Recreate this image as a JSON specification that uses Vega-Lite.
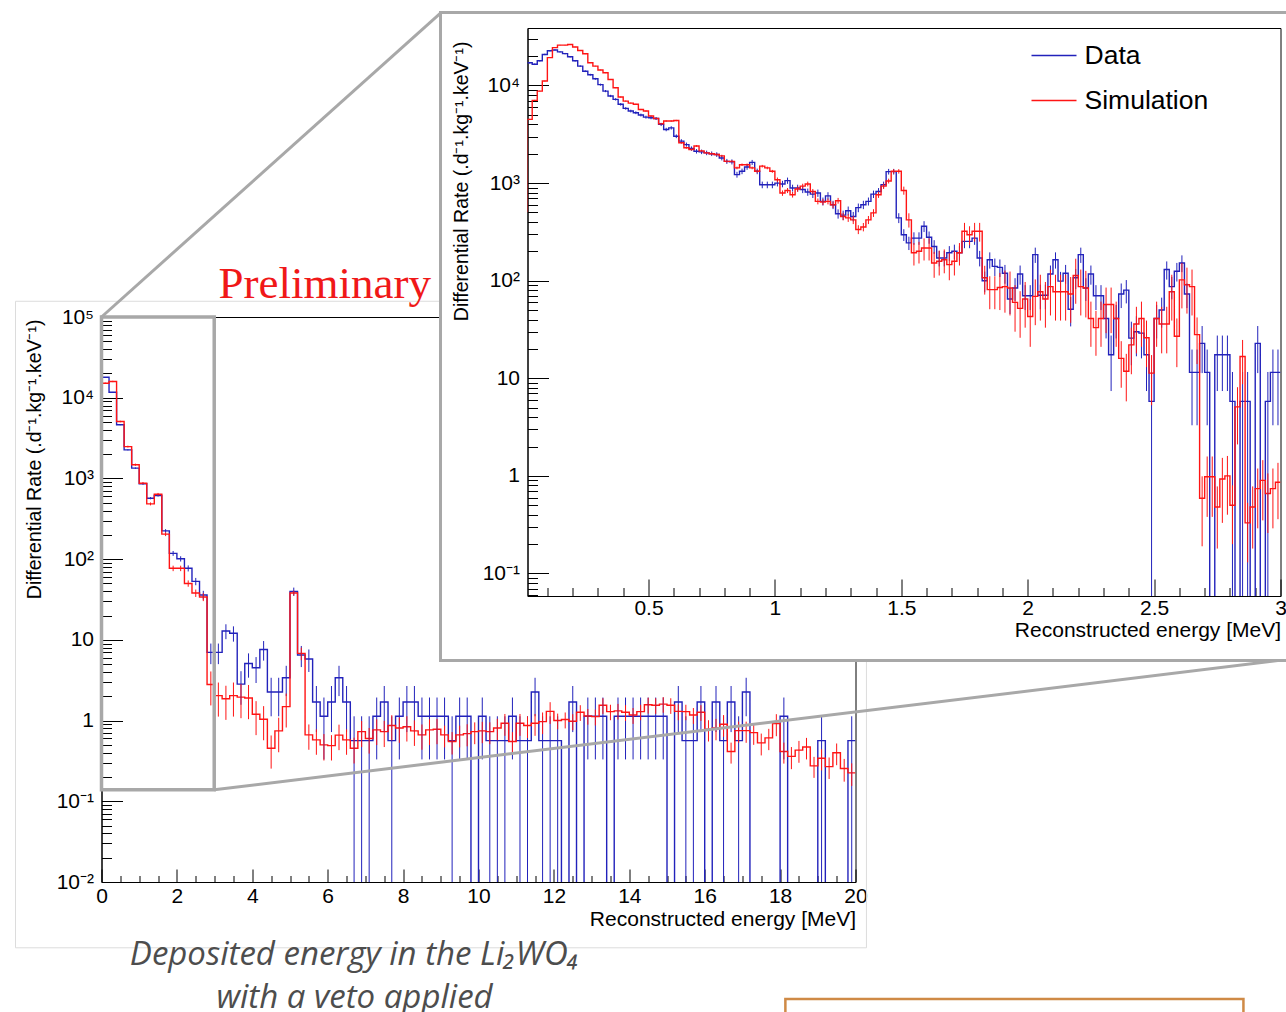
{
  "$schema": "https://vega.github.io/schema/vega-lite/v6.json",
  "background": "white",
  "padding": {"left": 14.5, "top": 10, "right": 0, "bottom": 0},
  "config": {
    "view": {"stroke": "black", "strokeWidth": 1},
    "axis": {"labelFont": "Liberation Sans", "titleFont": "Liberation Sans", "labelFontSize": 21, "titleFontSize": 21, "labelColor": "black", "titleColor": "black", "titleFontWeight": "normal", "domainColor": "black", "tickColor": "black", "grid": false, "labelFlush": false, "labelOverlap": false, "tickWidth": 1, "domainWidth": 1, "tickCount": 1000}
  },
  "datasets": {
    "main": [
      {"s":"Data","a":0,"b":0.2,"v":17900,"e":100},{"s":"Data","a":0.2,"b":0.4,"v":11700,"e":81},{"s":"Data","a":0.4,"b":0.6,"v":4620,"e":51},{"s":"Data","a":0.6,"b":0.8,"v":2260,"e":36},{"s":"Data","a":0.8,"b":1,"v":1340,"e":27.5},
      {"s":"Data","a":1,"b":1.2,"v":858,"e":22},{"s":"Data","a":1.2,"b":1.4,"v":569,"e":18},{"s":"Data","a":1.4,"b":1.6,"v":614,"e":18.6},{"s":"Data","a":1.6,"b":1.8,"v":224,"e":11.2},{"s":"Data","a":1.8,"b":2,"v":118,"e":8.2},
      {"s":"Data","a":2,"b":2.2,"v":101,"e":7.6},{"s":"Data","a":2.2,"b":2.4,"v":77,"e":6.6},{"s":"Data","a":2.4,"b":2.6,"v":53,"e":5.5},{"s":"Data","a":2.6,"b":2.8,"v":36,"e":4.5},{"s":"Data","a":2.8,"b":3,"v":7,"e":2},
      {"s":"Data","a":3,"b":3.2,"v":7,"e":2},{"s":"Data","a":3.2,"b":3.4,"v":12.9,"e":2.7},{"s":"Data","a":3.4,"b":3.6,"v":12.1,"e":2.6},{"s":"Data","a":3.6,"b":3.8,"v":2.83,"e":1.26},{"s":"Data","a":3.8,"b":4,"v":5.1,"e":1.7},
      {"s":"Data","a":4,"b":4.2,"v":4.52,"e":1.6},{"s":"Data","a":4.2,"b":4.4,"v":7.6,"e":2.07},{"s":"Data","a":4.4,"b":4.6,"v":2.26,"e":1.13},{"s":"Data","a":4.6,"b":4.8,"v":2.26,"e":1.13},{"s":"Data","a":4.8,"b":5,"v":3.39,"e":1.38},
      {"s":"Data","a":5,"b":5.2,"v":39.7,"e":4.7},{"s":"Data","a":5.2,"b":5.4,"v":6.5,"e":1.9},{"s":"Data","a":5.4,"b":5.6,"v":5.8,"e":1.8},{"s":"Data","a":5.6,"b":5.8,"v":1.7,"e":0.98},{"s":"Data","a":5.8,"b":6,"v":1.13,"e":0.8},
      {"s":"Data","a":6,"b":6.2,"v":1.7,"e":0.98},{"s":"Data","a":6.2,"b":6.4,"v":3.39,"e":1.38},{"s":"Data","a":6.4,"b":6.6,"v":1.7,"e":0.98},{"s":"Data","a":6.6,"b":6.8,"v":0.565,"e":0.565},{"s":"Data","a":6.8,"b":7,"v":0.565,"e":0.565},
      {"s":"Data","a":7,"b":7.2,"v":0.565,"e":0.565},{"s":"Data","a":7.2,"b":7.4,"v":1.13,"e":0.8},{"s":"Data","a":7.4,"b":7.6,"v":1.7,"e":0.98},{"s":"Data","a":7.6,"b":7.8,"v":0.565,"e":0.565},{"s":"Data","a":7.8,"b":8,"v":1.13,"e":0.8},
      {"s":"Data","a":8,"b":8.2,"v":1.7,"e":0.98},{"s":"Data","a":8.2,"b":8.4,"v":1.7,"e":0.98},{"s":"Data","a":8.4,"b":8.6,"v":1.13,"e":0.8},{"s":"Data","a":8.6,"b":8.8,"v":1.13,"e":0.8},{"s":"Data","a":8.8,"b":9,"v":1.13,"e":0.8},
      {"s":"Data","a":9,"b":9.2,"v":1.13,"e":0.8},{"s":"Data","a":9.2,"b":9.4,"v":0.565,"e":0.565},{"s":"Data","a":9.4,"b":9.6,"v":1.13,"e":0.8},{"s":"Data","a":9.6,"b":9.8,"v":1.13,"e":0.8},{"s":"Data","a":9.8,"b":10,"v":0,"e":0},
      {"s":"Data","a":10,"b":10.2,"v":1.13,"e":0.8},{"s":"Data","a":10.2,"b":10.4,"v":0.565,"e":0.565},{"s":"Data","a":10.4,"b":10.6,"v":0.565,"e":0.565},{"s":"Data","a":10.6,"b":10.8,"v":0.565,"e":0.565},{"s":"Data","a":10.8,"b":11,"v":1.13,"e":0.8},
      {"s":"Data","a":11,"b":11.2,"v":0.565,"e":0.565},{"s":"Data","a":11.2,"b":11.4,"v":0.565,"e":0.565},{"s":"Data","a":11.4,"b":11.6,"v":2.26,"e":1.13},{"s":"Data","a":11.6,"b":11.8,"v":0.565,"e":0.565},{"s":"Data","a":11.8,"b":12,"v":0.565,"e":0.565},
      {"s":"Data","a":12,"b":12.2,"v":0.565,"e":0.565},{"s":"Data","a":12.2,"b":12.4,"v":0,"e":0},{"s":"Data","a":12.4,"b":12.6,"v":1.7,"e":0.98},{"s":"Data","a":12.6,"b":12.8,"v":0,"e":0},{"s":"Data","a":12.8,"b":13,"v":1.13,"e":0.8},
      {"s":"Data","a":13,"b":13.2,"v":1.13,"e":0.8},{"s":"Data","a":13.2,"b":13.4,"v":1.13,"e":0.8},{"s":"Data","a":13.4,"b":13.6,"v":0,"e":0},{"s":"Data","a":13.6,"b":13.8,"v":1.13,"e":0.8},{"s":"Data","a":13.8,"b":14,"v":1.13,"e":0.8},
      {"s":"Data","a":14,"b":14.2,"v":1.13,"e":0.8},{"s":"Data","a":14.2,"b":14.4,"v":1.13,"e":0.8},{"s":"Data","a":14.4,"b":14.6,"v":1.13,"e":0.8},{"s":"Data","a":14.6,"b":14.8,"v":1.13,"e":0.8},{"s":"Data","a":14.8,"b":15,"v":1.13,"e":0.8},
      {"s":"Data","a":15,"b":15.2,"v":0,"e":0},{"s":"Data","a":15.2,"b":15.4,"v":1.7,"e":0.98},{"s":"Data","a":15.4,"b":15.6,"v":0.565,"e":0.565},{"s":"Data","a":15.6,"b":15.8,"v":0.565,"e":0.565},{"s":"Data","a":15.8,"b":16,"v":1.7,"e":0.98},
      {"s":"Data","a":16,"b":16.2,"v":0,"e":0},{"s":"Data","a":16.2,"b":16.4,"v":1.7,"e":0.98},{"s":"Data","a":16.4,"b":16.6,"v":0.565,"e":0.565},{"s":"Data","a":16.6,"b":16.8,"v":1.7,"e":0.98},{"s":"Data","a":16.8,"b":17,"v":0.565,"e":0.565},
      {"s":"Data","a":17,"b":17.2,"v":2.26,"e":1.13},{"s":"Data","a":17.2,"b":17.4,"v":0,"e":0},{"s":"Data","a":17.4,"b":17.6,"v":0,"e":0},{"s":"Data","a":17.6,"b":17.8,"v":0,"e":0},{"s":"Data","a":17.8,"b":18,"v":0,"e":0},
      {"s":"Data","a":18,"b":18.2,"v":1.13,"e":0.8},{"s":"Data","a":18.2,"b":18.4,"v":0,"e":0},{"s":"Data","a":18.4,"b":18.6,"v":0,"e":0},{"s":"Data","a":18.6,"b":18.8,"v":0,"e":0},{"s":"Data","a":18.8,"b":19,"v":0,"e":0},
      {"s":"Data","a":19,"b":19.2,"v":0.565,"e":0.565},{"s":"Data","a":19.2,"b":19.4,"v":0,"e":0},{"s":"Data","a":19.4,"b":19.6,"v":0,"e":0},{"s":"Data","a":19.6,"b":19.8,"v":0,"e":0},{"s":"Data","a":19.8,"b":20,"v":0.565,"e":0.565},
      {"s":"Simulation","a":0,"b":0.2,"v":15100,"e":300},{"s":"Simulation","a":0.2,"b":0.4,"v":15900,"e":300},{"s":"Simulation","a":0.4,"b":0.6,"v":5070,"e":110},{"s":"Simulation","a":0.6,"b":0.8,"v":2480,"e":65},{"s":"Simulation","a":0.8,"b":1,"v":1480,"e":45},
      {"s":"Simulation","a":1,"b":1.2,"v":873,"e":30},{"s":"Simulation","a":1.2,"b":1.4,"v":484,"e":20},{"s":"Simulation","a":1.4,"b":1.6,"v":637,"e":24},{"s":"Simulation","a":1.6,"b":1.8,"v":204,"e":11},{"s":"Simulation","a":1.8,"b":2,"v":77,"e":6},
      {"s":"Simulation","a":2,"b":2.2,"v":77,"e":6},{"s":"Simulation","a":2.2,"b":2.4,"v":50,"e":4.5},{"s":"Simulation","a":2.4,"b":2.6,"v":38,"e":4},{"s":"Simulation","a":2.6,"b":2.8,"v":34,"e":3.8},{"s":"Simulation","a":2.8,"b":3,"v":2.8,"e":1.26},
      {"s":"Simulation","a":3,"b":3.2,"v":2.04,"e":0.92},{"s":"Simulation","a":3.2,"b":3.4,"v":1.86,"e":0.84},{"s":"Simulation","a":3.4,"b":3.6,"v":2.04,"e":0.92},{"s":"Simulation","a":3.6,"b":3.8,"v":1.95,"e":0.88},{"s":"Simulation","a":3.8,"b":4,"v":1.9,"e":0.86},
      {"s":"Simulation","a":4,"b":4.2,"v":1.2,"e":0.54},{"s":"Simulation","a":4.2,"b":4.4,"v":1.04,"e":0.47},{"s":"Simulation","a":4.4,"b":4.6,"v":0.454,"e":0.2},{"s":"Simulation","a":4.6,"b":4.8,"v":0.745,"e":0.34},{"s":"Simulation","a":4.8,"b":5,"v":1.49,"e":0.67},
      {"s":"Simulation","a":5,"b":5.2,"v":38,"e":2.5},{"s":"Simulation","a":5.2,"b":5.4,"v":6.8,"e":1.2},{"s":"Simulation","a":5.4,"b":5.6,"v":0.665,"e":0.23},{"s":"Simulation","a":5.6,"b":5.8,"v":0.577,"e":0.2},{"s":"Simulation","a":5.8,"b":6,"v":0.5,"e":0.18},
      {"s":"Simulation","a":6,"b":6.2,"v":0.49,"e":0.17},{"s":"Simulation","a":6.2,"b":6.4,"v":0.66,"e":0.23},{"s":"Simulation","a":6.4,"b":6.6,"v":0.577,"e":0.2},{"s":"Simulation","a":6.6,"b":6.8,"v":0.454,"e":0.16},{"s":"Simulation","a":6.8,"b":7,"v":0.73,"e":0.26},
      {"s":"Simulation","a":7,"b":7.2,"v":0.6,"e":0.21},{"s":"Simulation","a":7.2,"b":7.4,"v":0.767,"e":0.27},{"s":"Simulation","a":7.4,"b":7.6,"v":0.73,"e":0.26},{"s":"Simulation","a":7.6,"b":7.8,"v":0.867,"e":0.3},{"s":"Simulation","a":7.8,"b":8,"v":0.81,"e":0.28},
      {"s":"Simulation","a":8,"b":8.2,"v":0.84,"e":0.29},{"s":"Simulation","a":8.2,"b":8.4,"v":0.745,"e":0.26},{"s":"Simulation","a":8.4,"b":8.6,"v":0.665,"e":0.23},{"s":"Simulation","a":8.6,"b":8.8,"v":0.767,"e":0.27},{"s":"Simulation","a":8.8,"b":9,"v":0.78,"e":0.27},
      {"s":"Simulation","a":9,"b":9.2,"v":0.665,"e":0.2},{"s":"Simulation","a":9.2,"b":9.4,"v":0.55,"e":0.17},{"s":"Simulation","a":9.4,"b":9.6,"v":0.665,"e":0.2},{"s":"Simulation","a":9.6,"b":9.8,"v":0.69,"e":0.21},{"s":"Simulation","a":9.8,"b":10,"v":0.73,"e":0.22},
      {"s":"Simulation","a":10,"b":10.2,"v":0.745,"e":0.22},{"s":"Simulation","a":10.2,"b":10.4,"v":0.73,"e":0.22},{"s":"Simulation","a":10.4,"b":10.6,"v":0.81,"e":0.24},{"s":"Simulation","a":10.6,"b":10.8,"v":0.927,"e":0.28},{"s":"Simulation","a":10.8,"b":11,"v":0.55,"e":0.17},
      {"s":"Simulation","a":11,"b":11.2,"v":0.927,"e":0.28},{"s":"Simulation","a":11.2,"b":11.4,"v":0.867,"e":0.26},{"s":"Simulation","a":11.4,"b":11.6,"v":0.927,"e":0.28},{"s":"Simulation","a":11.6,"b":11.8,"v":0.97,"e":0.29},{"s":"Simulation","a":11.8,"b":12,"v":1.3,"e":0.39},
      {"s":"Simulation","a":12,"b":12.2,"v":1,"e":0.22},{"s":"Simulation","a":12.2,"b":12.4,"v":1.03,"e":0.23},{"s":"Simulation","a":12.4,"b":12.6,"v":0.98,"e":0.22},{"s":"Simulation","a":12.6,"b":12.8,"v":1.27,"e":0.28},{"s":"Simulation","a":12.8,"b":13,"v":1.14,"e":0.25},
      {"s":"Simulation","a":13,"b":13.2,"v":1.12,"e":0.25},{"s":"Simulation","a":13.2,"b":13.4,"v":1.55,"e":0.34},{"s":"Simulation","a":13.4,"b":13.6,"v":1.29,"e":0.28},{"s":"Simulation","a":13.6,"b":13.8,"v":1.32,"e":0.29},{"s":"Simulation","a":13.8,"b":14,"v":1.27,"e":0.28},
      {"s":"Simulation","a":14,"b":14.2,"v":1.17,"e":0.26},{"s":"Simulation","a":14.2,"b":14.4,"v":1.29,"e":0.28},{"s":"Simulation","a":14.4,"b":14.6,"v":1.57,"e":0.35},{"s":"Simulation","a":14.6,"b":14.8,"v":1.55,"e":0.34},{"s":"Simulation","a":14.8,"b":15,"v":1.6,"e":0.35},
      {"s":"Simulation","a":15,"b":15.2,"v":1.55,"e":0.34},{"s":"Simulation","a":15.2,"b":15.4,"v":1.3,"e":0.29},{"s":"Simulation","a":15.4,"b":15.6,"v":1.29,"e":0.28},{"s":"Simulation","a":15.6,"b":15.8,"v":1.17,"e":0.26},{"s":"Simulation","a":15.8,"b":16,"v":1.27,"e":0.28},
      {"s":"Simulation","a":16,"b":16.2,"v":0.78,"e":0.23},{"s":"Simulation","a":16.2,"b":16.4,"v":0.81,"e":0.24},{"s":"Simulation","a":16.4,"b":16.6,"v":0.9,"e":0.27},{"s":"Simulation","a":16.6,"b":16.8,"v":0.413,"e":0.12},{"s":"Simulation","a":16.8,"b":17,"v":0.75,"e":0.22},
      {"s":"Simulation","a":17,"b":17.2,"v":0.75,"e":0.22},{"s":"Simulation","a":17.2,"b":17.4,"v":0.71,"e":0.21},{"s":"Simulation","a":17.4,"b":17.6,"v":0.53,"e":0.16},{"s":"Simulation","a":17.6,"b":17.8,"v":0.61,"e":0.18},{"s":"Simulation","a":17.8,"b":18,"v":0.92,"e":0.28},
      {"s":"Simulation","a":18,"b":18.2,"v":0.413,"e":0.12},{"s":"Simulation","a":18.2,"b":18.4,"v":0.36,"e":0.11},{"s":"Simulation","a":18.4,"b":18.6,"v":0.43,"e":0.13},{"s":"Simulation","a":18.6,"b":18.8,"v":0.47,"e":0.14},{"s":"Simulation","a":18.8,"b":19,"v":0.275,"e":0.08},
      {"s":"Simulation","a":19,"b":19.2,"v":0.341,"e":0.1},{"s":"Simulation","a":19.2,"b":19.4,"v":0.269,"e":0.08},{"s":"Simulation","a":19.4,"b":19.6,"v":0.4,"e":0.12},{"s":"Simulation","a":19.6,"b":19.8,"v":0.255,"e":0.08},{"s":"Simulation","a":19.8,"b":20,"v":0.225,"e":0.07}
    ],
    "ins": [
      {"s":"Data","a":0.02,"b":0.04,"v":17100,"e":315},{"s":"Data","a":0.04,"b":0.06,"v":16500,"e":309},{"s":"Data","a":0.06,"b":0.08,"v":17900,"e":322},{"s":"Data","a":0.08,"b":0.1,"v":20800,"e":347},{"s":"Data","a":0.1,"b":0.12,"v":22700,"e":363},
      {"s":"Data","a":0.12,"b":0.14,"v":23100,"e":366},{"s":"Data","a":0.14,"b":0.16,"v":22100,"e":358},{"s":"Data","a":0.16,"b":0.18,"v":21200,"e":351},{"s":"Data","a":0.18,"b":0.2,"v":19700,"e":338},{"s":"Data","a":0.2,"b":0.22,"v":17900,"e":322},
      {"s":"Data","a":0.22,"b":0.24,"v":15800,"e":303},{"s":"Data","a":0.24,"b":0.26,"v":14000,"e":285},{"s":"Data","a":0.26,"b":0.28,"v":12900,"e":274},{"s":"Data","a":0.28,"b":0.3,"v":11700,"e":260},{"s":"Data","a":0.3,"b":0.32,"v":10200,"e":243},
      {"s":"Data","a":0.32,"b":0.34,"v":8760,"e":225},{"s":"Data","a":0.34,"b":0.36,"v":7810,"e":213},{"s":"Data","a":0.36,"b":0.38,"v":7210,"e":204},{"s":"Data","a":0.38,"b":0.4,"v":6410,"e":193},{"s":"Data","a":0.4,"b":0.42,"v":5820,"e":184},
      {"s":"Data","a":0.42,"b":0.44,"v":5470,"e":178},{"s":"Data","a":0.44,"b":0.46,"v":5260,"e":175},{"s":"Data","a":0.46,"b":0.48,"v":4980,"e":170},{"s":"Data","a":0.48,"b":0.5,"v":4740,"e":166},{"s":"Data","a":0.5,"b":0.52,"v":4670,"e":165},
      {"s":"Data","a":0.52,"b":0.54,"v":4590,"e":163},{"s":"Data","a":0.54,"b":0.56,"v":3990,"e":152},{"s":"Data","a":0.56,"b":0.58,"v":3540,"e":143},{"s":"Data","a":0.58,"b":0.6,"v":3680,"e":146},{"s":"Data","a":0.6,"b":0.62,"v":3020,"e":132},
      {"s":"Data","a":0.62,"b":0.64,"v":2690,"e":125},{"s":"Data","a":0.64,"b":0.66,"v":2480,"e":120},{"s":"Data","a":0.66,"b":0.68,"v":2260,"e":114},{"s":"Data","a":0.68,"b":0.7,"v":2120,"e":111},{"s":"Data","a":0.7,"b":0.72,"v":2090,"e":110},
      {"s":"Data","a":0.72,"b":0.74,"v":2040,"e":109},{"s":"Data","a":0.74,"b":0.76,"v":2000,"e":108},{"s":"Data","a":0.76,"b":0.78,"v":1960,"e":107},{"s":"Data","a":0.78,"b":0.8,"v":1810,"e":102},{"s":"Data","a":0.8,"b":0.82,"v":1670,"e":98},
      {"s":"Data","a":0.82,"b":0.84,"v":1650,"e":98},{"s":"Data","a":0.84,"b":0.86,"v":1220,"e":84},{"s":"Data","a":0.86,"b":0.88,"v":1320,"e":87},{"s":"Data","a":0.88,"b":0.9,"v":1460,"e":92},{"s":"Data","a":0.9,"b":0.92,"v":1630,"e":97},
      {"s":"Data","a":0.92,"b":0.94,"v":1320,"e":87},{"s":"Data","a":0.94,"b":0.96,"v":960,"e":75},{"s":"Data","a":0.96,"b":0.98,"v":960,"e":75},{"s":"Data","a":0.98,"b":1,"v":960,"e":75},{"s":"Data","a":1,"b":1.02,"v":1000,"e":76},
      {"s":"Data","a":1.02,"b":1.04,"v":980,"e":75},{"s":"Data","a":1.04,"b":1.06,"v":1060,"e":78},{"s":"Data","a":1.06,"b":1.08,"v":890,"e":72},{"s":"Data","a":1.08,"b":1.1,"v":890,"e":72},{"s":"Data","a":1.1,"b":1.12,"v":860,"e":71},
      {"s":"Data","a":1.12,"b":1.14,"v":810,"e":69},{"s":"Data","a":1.14,"b":1.16,"v":770,"e":67},{"s":"Data","a":1.16,"b":1.18,"v":790,"e":68},{"s":"Data","a":1.18,"b":1.2,"v":650,"e":61},{"s":"Data","a":1.2,"b":1.22,"v":740,"e":66},
      {"s":"Data","a":1.22,"b":1.24,"v":600,"e":59},{"s":"Data","a":1.24,"b":1.26,"v":485,"e":53},{"s":"Data","a":1.26,"b":1.28,"v":470,"e":52},{"s":"Data","a":1.28,"b":1.3,"v":520,"e":55},{"s":"Data","a":1.3,"b":1.32,"v":455,"e":51},
      {"s":"Data","a":1.32,"b":1.34,"v":560,"e":57},{"s":"Data","a":1.34,"b":1.36,"v":600,"e":59},{"s":"Data","a":1.36,"b":1.38,"v":650,"e":61},{"s":"Data","a":1.38,"b":1.4,"v":770,"e":67},{"s":"Data","a":1.4,"b":1.42,"v":820,"e":69},
      {"s":"Data","a":1.42,"b":1.44,"v":960,"e":75},{"s":"Data","a":1.44,"b":1.46,"v":1310,"e":87},{"s":"Data","a":1.46,"b":1.48,"v":1310,"e":87},{"s":"Data","a":1.48,"b":1.5,"v":440,"e":51},{"s":"Data","a":1.5,"b":1.52,"v":296,"e":41},
      {"s":"Data","a":1.52,"b":1.54,"v":244,"e":38},{"s":"Data","a":1.54,"b":1.56,"v":273,"e":40},{"s":"Data","a":1.56,"b":1.58,"v":273,"e":40},{"s":"Data","a":1.58,"b":1.6,"v":361,"e":46},{"s":"Data","a":1.6,"b":1.62,"v":279,"e":40},
      {"s":"Data","a":1.62,"b":1.64,"v":224,"e":36},{"s":"Data","a":1.64,"b":1.66,"v":171,"e":31},{"s":"Data","a":1.66,"b":1.68,"v":171,"e":31},{"s":"Data","a":1.68,"b":1.7,"v":193,"e":33},{"s":"Data","a":1.7,"b":1.72,"v":200,"e":34},
      {"s":"Data","a":1.72,"b":1.74,"v":193,"e":33},{"s":"Data","a":1.74,"b":1.76,"v":253,"e":38},{"s":"Data","a":1.76,"b":1.78,"v":253,"e":38},{"s":"Data","a":1.78,"b":1.8,"v":273,"e":40},{"s":"Data","a":1.8,"b":1.82,"v":171,"e":31},
      {"s":"Data","a":1.82,"b":1.84,"v":100,"e":24},{"s":"Data","a":1.84,"b":1.86,"v":164,"e":31},{"s":"Data","a":1.86,"b":1.88,"v":140,"e":28.5},{"s":"Data","a":1.88,"b":1.9,"v":137,"e":28},{"s":"Data","a":1.9,"b":1.92,"v":119,"e":26},
      {"s":"Data","a":1.92,"b":1.94,"v":65,"e":19.4},{"s":"Data","a":1.94,"b":1.96,"v":84,"e":22},{"s":"Data","a":1.96,"b":1.98,"v":117,"e":26},{"s":"Data","a":1.98,"b":2,"v":70,"e":20},{"s":"Data","a":2,"b":2.02,"v":70,"e":20},
      {"s":"Data","a":2.02,"b":2.04,"v":185,"e":33},{"s":"Data","a":2.04,"b":2.06,"v":71,"e":20},{"s":"Data","a":2.06,"b":2.08,"v":71,"e":20},{"s":"Data","a":2.08,"b":2.1,"v":117,"e":26},{"s":"Data","a":2.1,"b":2.12,"v":164,"e":31},
      {"s":"Data","a":2.12,"b":2.14,"v":99,"e":24},{"s":"Data","a":2.14,"b":2.16,"v":119,"e":26},{"s":"Data","a":2.16,"b":2.18,"v":51,"e":17},{"s":"Data","a":2.18,"b":2.2,"v":107,"e":25},{"s":"Data","a":2.2,"b":2.22,"v":185,"e":33},
      {"s":"Data","a":2.22,"b":2.24,"v":84,"e":22},{"s":"Data","a":2.24,"b":2.26,"v":117,"e":26},{"s":"Data","a":2.26,"b":2.28,"v":70,"e":20},{"s":"Data","a":2.28,"b":2.3,"v":70,"e":20},{"s":"Data","a":2.3,"b":2.32,"v":41,"e":15.4},
      {"s":"Data","a":2.32,"b":2.34,"v":17.4,"e":10},{"s":"Data","a":2.34,"b":2.36,"v":41,"e":15.4},{"s":"Data","a":2.36,"b":2.38,"v":73,"e":20.6},{"s":"Data","a":2.38,"b":2.4,"v":80,"e":21.5},{"s":"Data","a":2.4,"b":2.42,"v":25.8,"e":12.2},
      {"s":"Data","a":2.42,"b":2.44,"v":30,"e":13.2},{"s":"Data","a":2.44,"b":2.46,"v":29,"e":13},{"s":"Data","a":2.46,"b":2.48,"v":17.4,"e":10},{"s":"Data","a":2.48,"b":2.5,"v":5.8,"e":5.8},{"s":"Data","a":2.5,"b":2.52,"v":41,"e":15.4},
      {"s":"Data","a":2.52,"b":2.54,"v":50,"e":17},{"s":"Data","a":2.54,"b":2.56,"v":130,"e":27.5},{"s":"Data","a":2.56,"b":2.58,"v":87,"e":22.5},{"s":"Data","a":2.58,"b":2.6,"v":125,"e":27},{"s":"Data","a":2.6,"b":2.62,"v":152,"e":29.7},
      {"s":"Data","a":2.62,"b":2.64,"v":73,"e":20.6},{"s":"Data","a":2.64,"b":2.66,"v":11.5,"e":8.2},{"s":"Data","a":2.66,"b":2.68,"v":11.5,"e":8.2},{"s":"Data","a":2.68,"b":2.7,"v":22.8,"e":11.5},{"s":"Data","a":2.7,"b":2.72,"v":11.5,"e":8.2},
      {"s":"Data","a":2.72,"b":2.74,"v":0,"e":0},{"s":"Data","a":2.74,"b":2.76,"v":17.4,"e":10},{"s":"Data","a":2.76,"b":2.78,"v":17.4,"e":10},{"s":"Data","a":2.78,"b":2.8,"v":17.4,"e":10},{"s":"Data","a":2.8,"b":2.82,"v":5.8,"e":5.8},
      {"s":"Data","a":2.82,"b":2.84,"v":0,"e":0},{"s":"Data","a":2.84,"b":2.86,"v":5.8,"e":5.8},{"s":"Data","a":2.86,"b":2.88,"v":5.8,"e":5.8},{"s":"Data","a":2.88,"b":2.9,"v":0,"e":0},{"s":"Data","a":2.9,"b":2.92,"v":22.8,"e":11.5},
      {"s":"Data","a":2.92,"b":2.94,"v":0,"e":0},{"s":"Data","a":2.94,"b":2.96,"v":5.8,"e":5.8},{"s":"Data","a":2.96,"b":2.98,"v":11.5,"e":8.2},{"s":"Data","a":2.98,"b":3,"v":11.5,"e":8.2},
      {"s":"Simulation","a":0,"b":0.02,"v":510,"e":10},{"s":"Simulation","a":0.02,"b":0.04,"v":4490,"e":60},{"s":"Simulation","a":0.04,"b":0.06,"v":7040,"e":80},{"s":"Simulation","a":0.06,"b":0.08,"v":8760,"e":90},{"s":"Simulation","a":0.08,"b":0.1,"v":11100,"e":100},
      {"s":"Simulation","a":0.1,"b":0.12,"v":19300,"e":140},{"s":"Simulation","a":0.12,"b":0.14,"v":24400,"e":160},{"s":"Simulation","a":0.14,"b":0.16,"v":25900,"e":160},{"s":"Simulation","a":0.16,"b":0.18,"v":25900,"e":160},{"s":"Simulation","a":0.18,"b":0.2,"v":26300,"e":160},
      {"s":"Simulation","a":0.2,"b":0.22,"v":24800,"e":160},{"s":"Simulation","a":0.22,"b":0.24,"v":22800,"e":150},{"s":"Simulation","a":0.24,"b":0.26,"v":21100,"e":145},{"s":"Simulation","a":0.26,"b":0.28,"v":17100,"e":130},{"s":"Simulation","a":0.28,"b":0.3,"v":15800,"e":125},
      {"s":"Simulation","a":0.3,"b":0.32,"v":14400,"e":120},{"s":"Simulation","a":0.32,"b":0.34,"v":13500,"e":115},{"s":"Simulation","a":0.34,"b":0.36,"v":11500,"e":110},{"s":"Simulation","a":0.36,"b":0.38,"v":9490,"e":100},{"s":"Simulation","a":0.38,"b":0.4,"v":7610,"e":90},
      {"s":"Simulation","a":0.4,"b":0.42,"v":6920,"e":85},{"s":"Simulation","a":0.42,"b":0.44,"v":6600,"e":85},{"s":"Simulation","a":0.44,"b":0.46,"v":6410,"e":80},{"s":"Simulation","a":0.46,"b":0.48,"v":5670,"e":80},{"s":"Simulation","a":0.48,"b":0.5,"v":5470,"e":75},
      {"s":"Simulation","a":0.5,"b":0.52,"v":4860,"e":70},{"s":"Simulation","a":0.52,"b":0.54,"v":4590,"e":70},{"s":"Simulation","a":0.54,"b":0.56,"v":4050,"e":65},{"s":"Simulation","a":0.56,"b":0.58,"v":4320,"e":70},{"s":"Simulation","a":0.58,"b":0.6,"v":4320,"e":70},
      {"s":"Simulation","a":0.6,"b":0.62,"v":4370,"e":70},{"s":"Simulation","a":0.62,"b":0.64,"v":2590,"e":55},{"s":"Simulation","a":0.64,"b":0.66,"v":2300,"e":50},{"s":"Simulation","a":0.66,"b":0.68,"v":2210,"e":50},{"s":"Simulation","a":0.68,"b":0.7,"v":2400,"e":50},
      {"s":"Simulation","a":0.7,"b":0.72,"v":2140,"e":50},{"s":"Simulation","a":0.72,"b":0.74,"v":2040,"e":50},{"s":"Simulation","a":0.74,"b":0.76,"v":2000,"e":50},{"s":"Simulation","a":0.76,"b":0.78,"v":1960,"e":50},{"s":"Simulation","a":0.78,"b":0.8,"v":1900,"e":50},
      {"s":"Simulation","a":0.8,"b":0.82,"v":1670,"e":50},{"s":"Simulation","a":0.82,"b":0.84,"v":1670,"e":50},{"s":"Simulation","a":0.84,"b":0.86,"v":1430,"e":45},{"s":"Simulation","a":0.86,"b":0.88,"v":1540,"e":45},{"s":"Simulation","a":0.88,"b":0.9,"v":1540,"e":45},
      {"s":"Simulation","a":0.9,"b":0.92,"v":1430,"e":45},{"s":"Simulation","a":0.92,"b":0.94,"v":1320,"e":45},{"s":"Simulation","a":0.94,"b":0.96,"v":1490,"e":45},{"s":"Simulation","a":0.96,"b":0.98,"v":1430,"e":45},{"s":"Simulation","a":0.98,"b":1,"v":1320,"e":45},
      {"s":"Simulation","a":1,"b":1.02,"v":1080,"e":60},{"s":"Simulation","a":1.02,"b":1.04,"v":790,"e":50},{"s":"Simulation","a":1.04,"b":1.06,"v":840,"e":50},{"s":"Simulation","a":1.06,"b":1.08,"v":760,"e":50},{"s":"Simulation","a":1.08,"b":1.1,"v":870,"e":55},
      {"s":"Simulation","a":1.1,"b":1.12,"v":930,"e":55},{"s":"Simulation","a":1.12,"b":1.14,"v":980,"e":55},{"s":"Simulation","a":1.14,"b":1.16,"v":820,"e":50},{"s":"Simulation","a":1.16,"b":1.18,"v":650,"e":45},{"s":"Simulation","a":1.18,"b":1.2,"v":640,"e":45},
      {"s":"Simulation","a":1.2,"b":1.22,"v":650,"e":45},{"s":"Simulation","a":1.22,"b":1.24,"v":600,"e":45},{"s":"Simulation","a":1.24,"b":1.26,"v":660,"e":45},{"s":"Simulation","a":1.26,"b":1.28,"v":455,"e":40},{"s":"Simulation","a":1.28,"b":1.3,"v":440,"e":40},
      {"s":"Simulation","a":1.3,"b":1.32,"v":420,"e":40},{"s":"Simulation","a":1.32,"b":1.34,"v":335,"e":35},{"s":"Simulation","a":1.34,"b":1.36,"v":355,"e":35},{"s":"Simulation","a":1.36,"b":1.38,"v":420,"e":40},{"s":"Simulation","a":1.38,"b":1.4,"v":495,"e":45},
      {"s":"Simulation","a":1.4,"b":1.42,"v":760,"e":55},{"s":"Simulation","a":1.42,"b":1.44,"v":930,"e":60},{"s":"Simulation","a":1.44,"b":1.46,"v":1050,"e":60},{"s":"Simulation","a":1.46,"b":1.48,"v":1320,"e":70},{"s":"Simulation","a":1.48,"b":1.5,"v":1320,"e":70},
      {"s":"Simulation","a":1.5,"b":1.52,"v":840,"e":80},{"s":"Simulation","a":1.52,"b":1.54,"v":420,"e":70},{"s":"Simulation","a":1.54,"b":1.56,"v":193,"e":50},{"s":"Simulation","a":1.56,"b":1.58,"v":200,"e":50},{"s":"Simulation","a":1.58,"b":1.6,"v":216,"e":55},
      {"s":"Simulation","a":1.6,"b":1.62,"v":216,"e":55},{"s":"Simulation","a":1.62,"b":1.64,"v":152,"e":45},{"s":"Simulation","a":1.64,"b":1.66,"v":158,"e":45},{"s":"Simulation","a":1.66,"b":1.68,"v":164,"e":45},{"s":"Simulation","a":1.68,"b":1.7,"v":146,"e":45},
      {"s":"Simulation","a":1.7,"b":1.72,"v":158,"e":45},{"s":"Simulation","a":1.72,"b":1.74,"v":193,"e":50},{"s":"Simulation","a":1.74,"b":1.76,"v":321,"e":70},{"s":"Simulation","a":1.76,"b":1.78,"v":296,"e":65},{"s":"Simulation","a":1.78,"b":1.8,"v":321,"e":70},
      {"s":"Simulation","a":1.8,"b":1.82,"v":321,"e":70},{"s":"Simulation","a":1.82,"b":1.84,"v":107,"e":35},{"s":"Simulation","a":1.84,"b":1.86,"v":81,"e":30},{"s":"Simulation","a":1.86,"b":1.88,"v":81,"e":30},{"s":"Simulation","a":1.88,"b":1.9,"v":85,"e":35},
      {"s":"Simulation","a":1.9,"b":1.92,"v":87,"e":40},{"s":"Simulation","a":1.92,"b":1.94,"v":84,"e":40},{"s":"Simulation","a":1.94,"b":1.96,"v":60,"e":30},{"s":"Simulation","a":1.96,"b":1.98,"v":52,"e":26},{"s":"Simulation","a":1.98,"b":2,"v":65,"e":32},
      {"s":"Simulation","a":2,"b":2.02,"v":43,"e":22},{"s":"Simulation","a":2.02,"b":2.04,"v":69,"e":34},{"s":"Simulation","a":2.04,"b":2.06,"v":77,"e":38},{"s":"Simulation","a":2.06,"b":2.08,"v":65,"e":32},{"s":"Simulation","a":2.08,"b":2.1,"v":87,"e":43},
      {"s":"Simulation","a":2.1,"b":2.12,"v":77,"e":38},{"s":"Simulation","a":2.12,"b":2.14,"v":77,"e":38},{"s":"Simulation","a":2.14,"b":2.16,"v":77,"e":38},{"s":"Simulation","a":2.16,"b":2.18,"v":73,"e":36},{"s":"Simulation","a":2.18,"b":2.2,"v":113,"e":55},
      {"s":"Simulation","a":2.2,"b":2.22,"v":87,"e":43},{"s":"Simulation","a":2.22,"b":2.24,"v":84,"e":42},{"s":"Simulation","a":2.24,"b":2.26,"v":41,"e":20},{"s":"Simulation","a":2.26,"b":2.28,"v":33,"e":16},{"s":"Simulation","a":2.28,"b":2.3,"v":41,"e":20},
      {"s":"Simulation","a":2.3,"b":2.32,"v":57,"e":28},{"s":"Simulation","a":2.32,"b":2.34,"v":57,"e":28},{"s":"Simulation","a":2.34,"b":2.36,"v":41,"e":20},{"s":"Simulation","a":2.36,"b":2.38,"v":16,"e":8},{"s":"Simulation","a":2.38,"b":2.4,"v":11.8,"e":6},
      {"s":"Simulation","a":2.4,"b":2.42,"v":22,"e":11},{"s":"Simulation","a":2.42,"b":2.44,"v":36,"e":18},{"s":"Simulation","a":2.44,"b":2.46,"v":41,"e":20},{"s":"Simulation","a":2.46,"b":2.48,"v":26,"e":13},{"s":"Simulation","a":2.48,"b":2.5,"v":11.3,"e":6},
      {"s":"Simulation","a":2.5,"b":2.52,"v":41,"e":20},{"s":"Simulation","a":2.52,"b":2.54,"v":36,"e":18},{"s":"Simulation","a":2.54,"b":2.56,"v":36,"e":18},{"s":"Simulation","a":2.56,"b":2.58,"v":77,"e":38},{"s":"Simulation","a":2.58,"b":2.6,"v":27,"e":14},
      {"s":"Simulation","a":2.6,"b":2.62,"v":102,"e":50},{"s":"Simulation","a":2.62,"b":2.64,"v":91,"e":45},{"s":"Simulation","a":2.64,"b":2.66,"v":87,"e":43},{"s":"Simulation","a":2.66,"b":2.68,"v":28,"e":14},{"s":"Simulation","a":2.68,"b":2.7,"v":0.59,"e":0.4},
      {"s":"Simulation","a":2.7,"b":2.72,"v":0.98,"e":0.6},{"s":"Simulation","a":2.72,"b":2.74,"v":0.98,"e":0.6},{"s":"Simulation","a":2.74,"b":2.76,"v":0.48,"e":0.3},{"s":"Simulation","a":2.76,"b":2.78,"v":0.93,"e":0.6},{"s":"Simulation","a":2.78,"b":2.8,"v":1,"e":0.6},
      {"s":"Simulation","a":2.8,"b":2.82,"v":0.5,"e":0.3},{"s":"Simulation","a":2.82,"b":2.84,"v":5.1,"e":3},{"s":"Simulation","a":2.84,"b":2.86,"v":16.7,"e":8},{"s":"Simulation","a":2.86,"b":2.88,"v":0.33,"e":0.2},{"s":"Simulation","a":2.88,"b":2.9,"v":0.48,"e":0.3},
      {"s":"Simulation","a":2.9,"b":2.92,"v":0.74,"e":0.45},{"s":"Simulation","a":2.92,"b":2.94,"v":0.9,"e":0.55},{"s":"Simulation","a":2.94,"b":2.96,"v":0.66,"e":0.4},{"s":"Simulation","a":2.96,"b":2.98,"v":0.74,"e":0.45},{"s":"Simulation","a":2.98,"b":3,"v":0.86,"e":0.5}
    ]
  },
  "resolve": {"scale": {"x": "independent", "y": "independent", "color": "independent"}, "legend": {"color": "independent"}},
  "bounds": "flush",
  "spacing": 426,
  "hconcat": [
    {
      "bounds": "flush",
      "spacing": 0,
      "resolve": {"scale": {"x": "independent", "y": "independent", "color": "independent"}, "legend": {"color": "independent"}},
      "vconcat": [
        {
          "width": 10, "height": 289,
          "view": {"stroke": null},
          "data": {"values": [{}]},
          "mark": {"type": "text", "text": ""}
        },
        {
          "width": 754, "height": 565,
          "layer": [
            {
              "data": {"name": "main"},
              "transform": [{"fold": ["a", "b"], "as": ["k", "x"]}, {"calculate": "max(datum.v, 0.0001)", "as": "vv"}],
              "mark": {"type": "line", "clip": true, "strokeWidth": 1.4},
              "encoding": {
                "x": {"field": "x", "type": "quantitative", "scale": {"domain": [0, 20], "nice": false, "zero": false},
                  "axis": {"title": "Reconstructed energy [MeV]", "titleAnchor": "end", "titlePadding": -4,
                    "values": [0,0.5,1,1.5,2,2.5,3,3.5,4,4.5,5,5.5,6,6.5,7,7.5,8,8.5,9,9.5,10,10.5,11,11.5,12,12.5,13,13.5,14,14.5,15,15.5,16,16.5,17,17.5,18,18.5,19,19.5,20],
                    "tickCount": 1000,
                    "tickSize": {"condition": {"test": "datum.value % 2 === 0", "value": -13}, "value": -6.5},
                    "labelExpr": "datum.value % 2 === 0 ? format(datum.value, 'd') : ''",
                    "labelPadding": 16}},
                "y": {"field": "vv", "type": "quantitative", "scale": {"type": "log", "domain": [0.01, 100000], "nice": false},
                  "axis": {"title": "Differential Rate (.d⁻¹.kg⁻¹.keV⁻¹)", "titleAnchor": "end", "titlePadding": 12, "titleFontSize": 19.5, "titleY": 2,
                    "values": [0.01,0.02,0.03,0.04,0.05,0.06,0.07,0.08,0.09,0.1,0.2,0.3,0.4,0.5,0.6,0.7,0.8,0.9,1,2,3,4,5,6,7,8,9,10,20,30,40,50,60,70,80,90,100,200,300,400,500,600,700,800,900,1000,2000,3000,4000,5000,6000,7000,8000,9000,10000,20000,30000,40000,50000,60000,70000,80000,90000,100000],
                    "tickCount": 1000,
                    "tickSize": {"condition": {"test": "indexof([0.01,0.1,1,10,100,1000,10000,100000], datum.value) >= 0", "value": -21}, "value": -10},
                    "labelExpr": "datum.value === 100000 ? '10⁵' : datum.value === 10000 ? '10⁴' : datum.value === 1000 ? '10³' : datum.value === 100 ? '10²' : datum.value === 10 ? '10' : datum.value === 1 ? '1' : datum.value === 0.1 ? '10⁻¹' : datum.value === 0.01 ? '10⁻²' : ''",
                    "labelPadding": 29}},
                "color": {"field": "s", "type": "nominal", "scale": {"domain": ["Data", "Simulation"], "range": ["#2222bb", "#ff1414"]}, "legend": null},
                "order": [{"field": "x", "type": "quantitative"}, {"field": "k", "type": "nominal", "sort": "descending"}]
              }
            },
            {
              "data": {"name": "main"},
              "transform": [{"filter": "datum.v > 0"}, {"calculate": "(datum.a + datum.b) / 2", "as": "xc"}, {"calculate": "max(datum.v - datum.e, 0.0001)", "as": "lo"}, {"calculate": "datum.v + datum.e", "as": "hi"}],
              "mark": {"type": "rule", "clip": true, "strokeWidth": 1},
              "encoding": {
                "x": {"field": "xc", "type": "quantitative", "scale": {"domain": [0, 20], "nice": false, "zero": false}},
                "y": {"field": "lo", "type": "quantitative", "scale": {"type": "log", "domain": [0.01, 100000], "nice": false}},
                "y2": {"field": "hi"},
                "color": {"field": "s", "type": "nominal", "scale": {"domain": ["Data", "Simulation"], "range": ["#2222bb", "#ff1414"]}, "legend": null}
              }
            },
            {
              "data": {"values": [{}]},
              "mark": {"type": "rect", "fill": null, "stroke": "#dcdcdc", "strokeWidth": 1, "clip": false},
              "encoding": {
                "x": {"datum": -2.281, "type": "quantitative", "scale": {"domain": [0, 20], "nice": false, "zero": false}},
                "x2": {"datum": 20.29},
                "y": {"datum": 156700, "type": "quantitative", "scale": {"type": "log", "domain": [0.01, 100000], "nice": false}},
                "y2": {"datum": 0.00153}
              }
            },
            {
              "data": {"values": [{}]},
              "mark": {"type": "rect", "fill": null, "stroke": "#a8a8a8", "strokeWidth": 3.5, "clip": false},
              "encoding": {
                "x": {"datum": 0, "type": "quantitative", "scale": {"domain": [0, 20], "nice": false, "zero": false}},
                "x2": {"datum": 2.99},
                "y": {"datum": 100000, "type": "quantitative", "scale": {"type": "log", "domain": [0.01, 100000], "nice": false}},
                "y2": {"datum": 0.139}
              }
            },
            {
              "data": {"values": [{}]},
              "mark": {"type": "rule", "stroke": "#a8a8a8", "strokeWidth": 3, "clip": false},
              "encoding": {
                "x": {"datum": 0, "type": "quantitative", "scale": {"domain": [0, 20], "nice": false, "zero": false}},
                "x2": {"datum": 8.992},
                "y": {"datum": 100000, "type": "quantitative", "scale": {"type": "log", "domain": [0.01, 100000], "nice": false}},
                "y2": {"datum": 583000000}
              }
            },
            {
              "data": {"values": [{}]},
              "mark": {"type": "rule", "stroke": "#a8a8a8", "strokeWidth": 3, "clip": false},
              "encoding": {
                "x": {"datum": 2.99, "type": "quantitative", "scale": {"domain": [0, 20], "nice": false, "zero": false}},
                "x2": {"datum": 31.43},
                "y": {"datum": 0.139, "type": "quantitative", "scale": {"type": "log", "domain": [0.01, 100000], "nice": false}},
                "y2": {"datum": 5.7}
              }
            },
            {
              "data": {"values": [{}]},
              "mark": {"type": "rect", "fill": "white", "stroke": "#a8a8a8", "strokeWidth": 3, "clip": false},
              "encoding": {
                "x": {"datum": 8.992, "type": "quantitative", "scale": {"domain": [0, 20], "nice": false, "zero": false}},
                "x2": {"datum": 31.54},
                "y": {"datum": 592000000, "type": "quantitative", "scale": {"type": "log", "domain": [0.01, 100000], "nice": false}},
                "y2": {"datum": 5.53}
              }
            },
            {
              "data": {"values": [{}]},
              "mark": {"type": "text", "text": "Preliminary", "font": "Liberation Serif", "fontSize": 45, "color": "#f01818", "align": "left", "baseline": "alphabetic", "clip": false},
              "encoding": {
                "x": {"datum": 3.103, "type": "quantitative", "scale": {"domain": [0, 20], "nice": false, "zero": false}},
                "y": {"datum": 170600, "type": "quantitative", "scale": {"type": "log", "domain": [0.01, 100000], "nice": false}}
              }
            },
            {
              "data": {"values": [{}]},
              "mark": {"type": "text", "text": "Deposited energy in the Li₂WO₄", "font": "Open Sans", "fontStyle": "italic", "fontSize": 33, "color": "#4d4d4d", "align": "center", "baseline": "alphabetic", "clip": false},
              "encoding": {
                "x": {"datum": 6.711, "type": "quantitative", "scale": {"domain": [0, 20], "nice": false, "zero": false}},
                "y": {"datum": 0.00095, "type": "quantitative", "scale": {"type": "log", "domain": [0.01, 100000], "nice": false}}
              }
            },
            {
              "data": {"values": [{}]},
              "mark": {"type": "text", "text": "with a veto applied", "font": "Open Sans", "fontStyle": "italic", "fontSize": 33, "color": "#4d4d4d", "align": "center", "baseline": "alphabetic", "clip": false},
              "encoding": {
                "x": {"datum": 6.711, "type": "quantitative", "scale": {"domain": [0, 20], "nice": false, "zero": false}},
                "y": {"datum": 0.000276, "type": "quantitative", "scale": {"type": "log", "domain": [0.01, 100000], "nice": false}}
              }
            },
            {
              "data": {"values": [{}]},
              "mark": {"type": "rect", "fill": null, "stroke": "#cf8a46", "strokeWidth": 2.5, "clip": false},
              "encoding": {
                "x": {"datum": 18.14, "type": "quantitative", "scale": {"domain": [0, 20], "nice": false, "zero": false}},
                "x2": {"datum": 30.29},
                "y": {"datum": 0.000356, "type": "quantitative", "scale": {"type": "log", "domain": [0.01, 100000], "nice": false}},
                "y2": {"datum": 0.000226}
              }
            }
          ]
        }
      ]
    },
    {
      "width": 753, "height": 568,
      "data": {"name": "ins"},
      "layer": [
        {
          "transform": [{"fold": ["a", "b"], "as": ["k", "x"]}, {"calculate": "max(datum.v, 0.0001)", "as": "vv"}],
          "mark": {"type": "line", "clip": true, "strokeWidth": 1.4},
          "encoding": {
            "x": {"field": "x", "type": "quantitative", "scale": {"domain": [0.0214, 3], "nice": false, "zero": false},
              "axis": {"title": "Reconstructed energy [MeV]", "titleAnchor": "end", "titlePadding": -7,
                "values": [0.1,0.2,0.3,0.4,0.5,0.6,0.7,0.8,0.9,1,1.1,1.2,1.3,1.4,1.5,1.6,1.7,1.8,1.9,2,2.1,2.2,2.3,2.4,2.5,2.6,2.7,2.8,2.9,3],
                "tickCount": 1000,
                "tickSize": {"condition": {"test": "abs(datum.value * 2 - round(datum.value * 2)) < 0.000001", "value": -17}, "value": -8.5},
                "labelExpr": "abs(datum.value * 2 - round(datum.value * 2)) < 0.000001 ? format(datum.value, '~g') : ''",
                "labelPadding": 18}},
            "y": {"field": "vv", "type": "quantitative", "scale": {"type": "log", "domain": [0.0588, 38800], "nice": false},
              "axis": {"title": "Differential Rate (.d⁻¹.kg⁻¹.keV⁻¹)", "titleAnchor": "end", "titlePadding": 11, "titleFontSize": 19.5, "titleY": 13,
                "values": [0.06,0.07,0.08,0.09,0.1,0.2,0.3,0.4,0.5,0.6,0.7,0.8,0.9,1,2,3,4,5,6,7,8,9,10,20,30,40,50,60,70,80,90,100,200,300,400,500,600,700,800,900,1000,2000,3000,4000,5000,6000,7000,8000,9000,10000,20000,30000],
                "tickCount": 1000,
                "tickSize": {"condition": {"test": "indexof([0.1,1,10,100,1000,10000], datum.value) >= 0", "value": -21}, "value": -10},
                "labelExpr": "datum.value === 10000 ? '10⁴' : datum.value === 1000 ? '10³' : datum.value === 100 ? '10²' : datum.value === 10 ? '10' : datum.value === 1 ? '1' : datum.value === 0.1 ? '10⁻¹' : ''",
                "labelPadding": 29}},
            "color": {"field": "s", "type": "nominal", "scale": {"domain": ["Data", "Simulation"], "range": ["#2222bb", "#ff1414"]},
              "legend": {"title": null, "orient": "none", "legendX": 503, "legendY": 4, "symbolType": "stroke", "symbolSize": 2025, "symbolStrokeWidth": 1.5, "labelFont": "Liberation Sans", "labelFontSize": 26.5, "labelColor": "black", "labelOffset": 7, "rowPadding": 8, "padding": 0}},
            "order": [{"field": "x", "type": "quantitative"}, {"field": "k", "type": "nominal", "sort": "descending"}]
          }
        },
        {
          "transform": [{"filter": "datum.v > 0"}, {"calculate": "(datum.a + datum.b) / 2", "as": "xc"}, {"calculate": "max(datum.v - datum.e, 0.0001)", "as": "lo"}, {"calculate": "datum.v + datum.e", "as": "hi"}],
          "mark": {"type": "rule", "clip": true, "strokeWidth": 1},
          "encoding": {
            "x": {"field": "xc", "type": "quantitative", "scale": {"domain": [0.0214, 3], "nice": false, "zero": false}},
            "y": {"field": "lo", "type": "quantitative", "scale": {"type": "log", "domain": [0.0588, 38800], "nice": false}},
            "y2": {"field": "hi"},
            "color": {"field": "s", "type": "nominal", "scale": {"domain": ["Data", "Simulation"], "range": ["#2222bb", "#ff1414"]}, "legend": null}
          }
        }
      ]
    }
  ]
}
